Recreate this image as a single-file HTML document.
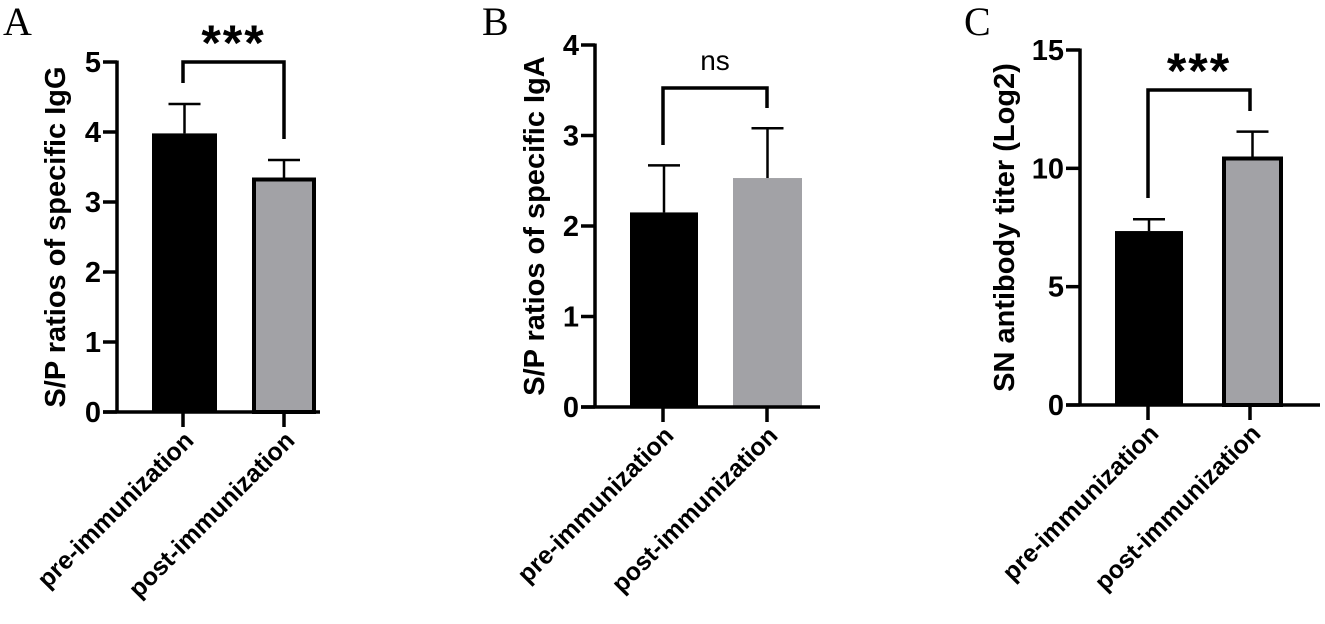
<!DOCTYPE html>
<html><head><meta charset="utf-8">
<style>
html,body{margin:0;padding:0;background:#fff;}
svg{display:block;font-family:"Liberation Sans",Arial,sans-serif;}
</style></head>
<body>
<svg id="fig" width="1325" height="624" viewBox="0 0 1325 624" xmlns="http://www.w3.org/2000/svg"></svg>
<script>
const categories = ["pre-immunization","post-immunization"];
const meansA = [3.98, 3.35];
const errA = [4.40, 3.60];
const meansB = [2.15, 2.53];
const errB = [2.67, 3.08];
const meansC = [7.35, 10.5];
const errC = [7.85, 11.55];
const ticksA = [0,1,2,3,4,5];
const ticksB = [0,1,2,3,4];
const ticksC = [0,5,10,15];

const NS = "http://www.w3.org/2000/svg";
const svg = document.getElementById('fig');
function mk(tag, attrs, parent, text){
  const e = document.createElementNS(NS, tag);
  for (const k in attrs) e.setAttribute(k, attrs[k]);
  if (text !== undefined) e.textContent = text;
  (parent||svg).appendChild(e);
  return e;
}

const panels = [
  {id:'a', letter:'A', lx:3, title:'S/P ratios of specific IgG', tx:55, ax:117, y0:412, ytop:62, max:5, ticks:ticksA, means:meansA, errs:errA,
   bars:[[152,217],[252,316]], xt:[183,284], axEnd:320, br:{y:62, l:83, r:139}, sig:'***', sigY:60, border2:true},
  {id:'b', letter:'B', lx:482, title:'S/P ratios of specific IgA', tx:534, ax:595, y0:407, ytop:45, max:4, ticks:ticksB, means:meansB, errs:errB,
   bars:[[630,698],[733,802]], xt:[663,767], axEnd:820, br:{y:88, l:145, r:108}, sig:'ns', sigY:70, border2:false},
  {id:'c', letter:'C', lx:964, title:'SN antibody titer (Log2)', tx:1004, ax:1080, y0:405, ytop:50, max:15, ticks:ticksC, means:meansC, errs:errC,
   bars:[[1115,1183],[1222,1283]], xt:[1148,1250], axEnd:1320, br:{y:90, l:198, r:111}, sig:'***', sigY:88, border2:true}
];

panels.forEach(p=>{
  const g = mk('g',{});
  
  
  const ys = v => p.y0 - (v/p.max)*(p.y0-p.ytop);
  const L = mk('text',{x:p.lx, y:35, 'font-family':'"Liberation Serif",serif','font-size':40}, g, p.letter);
  
  
  p.means.forEach((m,i)=>{
    const [x1,x2] = p.bars[i];
    const top = ys(m);
    let r;
    if (i===0) r = mk('rect',{x:x1,y:top,width:x2-x1,height:p.y0-top,fill:'#000'},g);
    else if (p.border2) r = mk('rect',{x:x1+2,y:top+2,width:x2-x1-4,height:p.y0-top-2,fill:'#a2a2a6',stroke:'#000','stroke-width':4},g);
    else r = mk('rect',{x:x1,y:top,width:x2-x1,height:p.y0-top,fill:'#a2a2a6'},g);
    
    
    const cx = (x1+x2)/2;
    const eg = mk('g',{stroke:'#000','stroke-width':2.5},g);
    
    
    mk('line',{x1:cx,x2:cx,y1:top,y2:ys(p.errs[i])},eg);
    mk('line',{x1:cx-16,x2:cx+16,y1:ys(p.errs[i]),y2:ys(p.errs[i])},eg);
  });
  const ax = mk('g',{stroke:'#000','stroke-width':3.5,fill:'none'},g);
  
  
  mk('line',{x1:p.ax,x2:p.ax,y1:p.ytop-1.5,y2:p.y0},ax);
  mk('line',{x1:p.ax-14,x2:p.axEnd,y1:p.y0,y2:p.y0},ax);
  p.ticks.forEach(t=>{
    mk('line',{x1:p.ax-14,x2:p.ax,y1:ys(t),y2:ys(t)},ax);
    const tl = mk('text',{x:p.ax-16,y:ys(t)+10,'text-anchor':'end','font-size':29,'font-weight':'bold'},g,String(t));
    
    
  });
  p.xt.forEach((x,i)=>{
    mk('line',{x1:x,x2:x,y1:p.y0,y2:p.y0+15},ax);
    const xl = mk('text',{x:x+12,y:p.y0+30,'text-anchor':'end','font-size':25,'font-weight':'bold',transform:`rotate(-45 ${x+12} ${p.y0+30})`},g,categories[i]);
    
    
  });
  const yt = mk('text',{x:p.tx,y:(p.ytop+p.y0)/2,'text-anchor':'middle','font-size':29,'font-weight':'bold',transform:`rotate(-90 ${p.tx} ${(p.ytop+p.y0)/2})`,dy:10},g,p.title);
  
  
  const b = p.br;
  const bp = mk('polyline',{points:`${p.xt[0]},${b.l} ${p.xt[0]},${b.y} ${p.xt[1]},${b.y} ${p.xt[1]},${b.r}`,fill:'none',stroke:'#000','stroke-width':3.5},g);
  
  
  const st = mk('text',{x:(p.xt[0]+p.xt[1])/2,y:p.sigY,'text-anchor':'middle','font-size':p.sig==='ns'?28:50,'font-weight':p.sig==='ns'?'normal':'bold','letter-spacing':p.sig==='ns'?0:2},g,p.sig);
  
  
});
</script>
</body></html>
